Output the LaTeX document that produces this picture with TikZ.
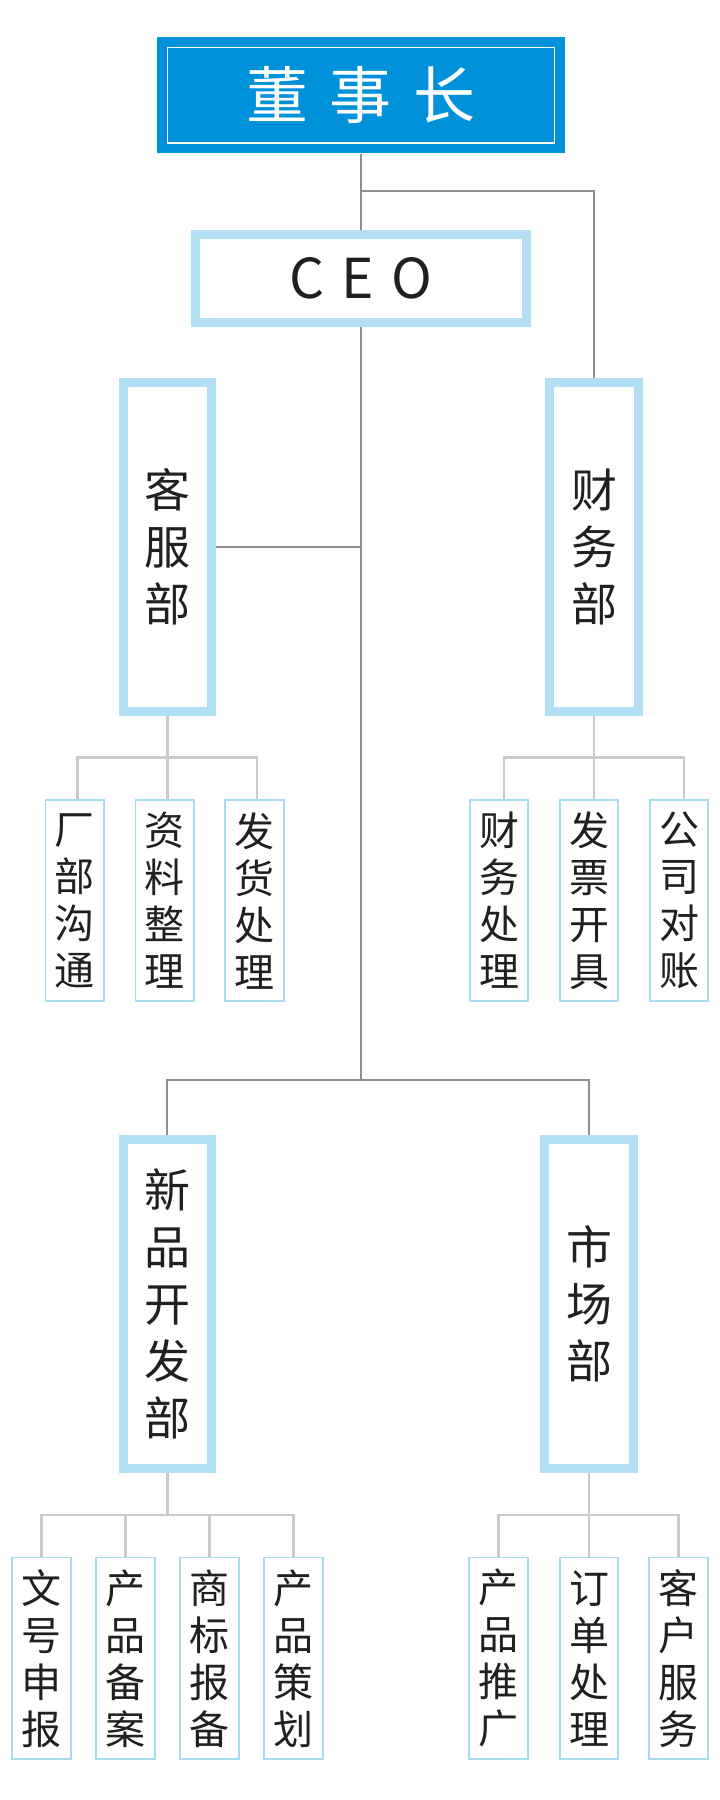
\documentclass[tikz,border=0pt]{standalone}
\usepackage{fontspec}
\setmainfont{Noto Sans CJK SC}
\definecolor{chairblue}{HTML}{0091DB}
\definecolor{framebl}{HTML}{B3DFF4}
\definecolor{leafbl}{HTML}{A8DCF2}
\definecolor{trunkgr}{HTML}{8E8E8E}
\definecolor{twiggr}{HTML}{CACACA}
\definecolor{ink}{HTML}{231F20}
\begin{document}
\begin{tikzpicture}[x=1pt,y=-1pt,
	chairbox/.style={fill=chairblue,text=white,minimum width=408pt,minimum height=116pt,inner sep=0pt,font=\fontsize{62}{62}\selectfont},
	ceobox/.style={draw=framebl,line width=9pt,fill=white,minimum width=330.5pt,minimum height=87.7pt,inner sep=0pt,text=ink,font=\fontsize{55}{55}\selectfont},
	deptbox/.style={draw=framebl,line width=9pt,fill=white,minimum width=88.5pt,minimum height=329pt,inner sep=0pt,align=center,text=ink,font=\fontsize{46}{57}\selectfont},
	leafbox/.style={draw=leafbl,line width=1.8pt,fill=white,minimum width=58.6pt,minimum height=201.5pt,inner sep=0pt,align=center,text=ink,font=\fontsize{40}{47}\selectfont},
	trunk/.style={draw=trunkgr,line width=2pt},
	twig/.style={draw=twiggr,line width=2.6pt}]
	\useasboundingbox (0,0) rectangle (720,1800);
	
	\node[chairbox] (chair) at (361,95.3) {董\hspace{22pt}事\hspace{22pt}长};
	\draw[white,line width=1.4pt] ([shift={(10.5,10.5)}]chair.north west) rectangle ([shift={(-10.5,-10.5)}]chair.south east);
	\node[ceobox] (ceo) at (361,278.3) {C\hspace{17pt}E\hspace{17pt}O};
	
	% departments
	\node[deptbox] (cs) at (167.3,546.7) {客\\服\\部};
	\node[deptbox] (fin) at (594,546.7) {财\\务\\部};
	\node[deptbox] (new) at (167.3,1304.2) {新\\品\\开\\发\\部};
	\node[deptbox] (mkt) at (589,1304.2) {市\\场\\部};
	
	% tasks
	\node[leafbox] (cs1) at (74.8,900.6) {厂\\部\\沟\\通};
	\node[leafbox] (cs2) at (164.8,900.6) {资\\料\\整\\理};
	\node[leafbox] (cs3) at (254.5,900.6) {发\\货\\处\\理};
	\node[leafbox] (fin1) at (499,900.6) {财\\务\\处\\理};
	\node[leafbox] (fin2) at (589,900.6) {发\\票\\开\\具};
	\node[leafbox] (fin3) at (679,900.6) {公\\司\\对\\账};
	\node[leafbox] (new1) at (41.4,1658.3) {文\\号\\申\\报};
	\node[leafbox] (new2) at (125.4,1658.3) {产\\品\\备\\案};
	\node[leafbox] (new3) at (209.3,1658.3) {商\\标\\报\\备};
	\node[leafbox] (new4) at (293.3,1658.3) {产\\品\\策\\划};
	\node[leafbox] (mkt1) at (498.5,1658.3) {产\\品\\推\\广};
	\node[leafbox] (mkt2) at (589,1658.3) {订\\单\\处\\理};
	\node[leafbox] (mkt3) at (678.5,1658.3) {客\\户\\服\\务};
	
	\coordinate (j1) at (361,191);
	\coordinate (j2) at (361,1080);
	\draw[trunk] (chair.south) -- (ceo.north);
	\draw[trunk] (j1) -| (fin.north);
	\draw[trunk] (ceo.south) -- (j2);
	\draw[trunk] (cs.east) -- (cs.east -| ceo.south);
	\draw[trunk] (new.north) |- (j2) -| (mkt.north);
	
	\draw[twig] (cs.south) -- ++(0,41.6) -| ([xshift=2.5pt]cs1.north) (cs.south) -- ++(0,41.6) -| ([xshift=2.5pt]cs3.north) (cs.south) -- ([xshift=2.5pt]cs2.north);
	\draw[twig] (fin.south) -- ++(0,41.6) -| ([xshift=5pt]fin1.north) (fin.south) -- ++(0,41.6) -| ([xshift=5pt]fin3.north) (fin.south) -- ([xshift=5pt]fin2.north);
	\draw[twig] (new.south) -- ++(0,41.7) -| (new1.north) (new.south) -- ++(0,41.7) -| (new4.north);
	\draw[twig] (new.south) -- ++(0,41.7) -| (new2.north) (new.south) -- ++(0,41.7) -| (new3.north);
	\draw[twig] (mkt.south) -- ++(0,41.7) -| (mkt1.north) (mkt.south) -- ++(0,41.7) -| (mkt3.north) (mkt.south) -- (mkt2.north);
\end{tikzpicture}
\end{document}
